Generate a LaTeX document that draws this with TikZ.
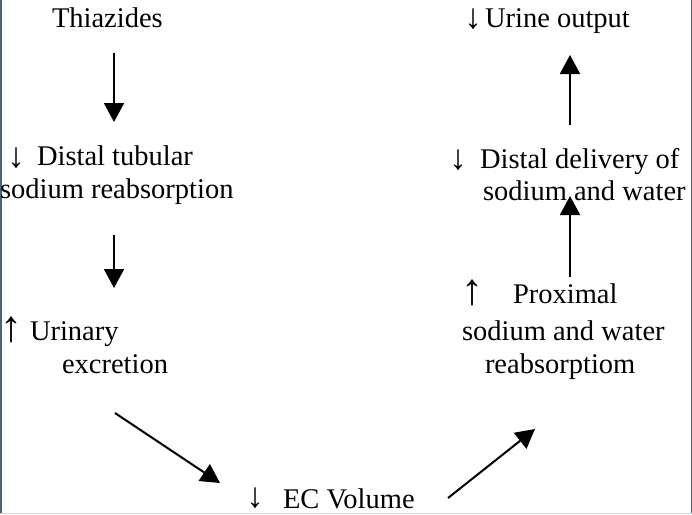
\documentclass[tikz,border=0pt]{standalone}
\usepackage{fontspec}
\setmainfont{Liberation Serif}
\usetikzlibrary{arrows.meta}
\definecolor{edgeblue}{RGB}{70,100,125}
\definecolor{edgelight}{RGB}{205,215,225}
\begin{document}
\begin{tikzpicture}[x=1pt,y=-1pt,
  lbl/.style={inner sep=0pt,outer sep=0pt,anchor=base west,font=\fontsize{28.5}{33}\selectfont},
  sym/.style={inner sep=0pt,outer sep=0pt,anchor=base,font=\fontsize{35}{37}\selectfont},
  symup/.style={inner sep=0pt,outer sep=0pt,anchor=base,font=\fontsize{44}{46}\selectfont},
  arr/.style={line width=2pt,-{Triangle[length=19pt,width=20pt]}}]
\useasboundingbox (0,0) rectangle (692,514);
% frame edges
\draw[edgeblue,line width=1.5pt] (0.75,0) -- (0.75,514);
\draw[edgeblue,line width=1.5pt] (691.25,0) -- (691.25,514);
\draw[edgelight,line width=1.5pt] (0,513.25) -- (692,513.25);
% left column
\node[lbl] (thz) at (52,27) {Thiazides};
\node[sym] (s1) at (16,167) {↓};
\node[lbl] (dt1) at (37,165) {Distal tubular};
\node[lbl] (dt2) at (0,198) {sodium reabsorption};
\node[symup] (s2) at (12,341) {↑};
\node[lbl] (ue1) at (30,340) {Urinary};
\node[lbl] (ue2) at (62,373) {excretion};
% bottom
\node[sym] (s3) at (255,507) {↓};
\node[lbl] (ec) at (283,508) {EC Volume};
% right column
\node[symup] (s4) at (472,304) {↑};
\node[lbl] (pr1) at (513,303) {Proximal};
\node[lbl] (pr2) at (462,340) {sodium and water};
\node[lbl] (pr3) at (485,373) {reabsorptiom};
\node[sym] (s5) at (458,169) {↓};
\node[lbl] (dd1) at (480,168) {Distal delivery of};
\node[lbl] (dd2) at (483,200) {sodium and water};
\node[sym] (s6) at (473,28) {↓};
\node[lbl] (uo) at (485,27) {Urine output};
% arrow end points
\coordinate (a1s) at (114,53);  \coordinate (a1e) at (114,122);
\coordinate (a2s) at (114,235); \coordinate (a2e) at (114,288);
\coordinate (a3s) at (115,413); \coordinate (a3e) at (220,483);
\coordinate (a4s) at (448,498); \coordinate (a4e) at (535,429);
\coordinate (a5s) at (570,277); \coordinate (a5e) at (570,196);
\coordinate (a6s) at (570,125); \coordinate (a6e) at (570,55);
\draw[arr] (a1s) -- (a1e);
\draw[arr] (a2s) -- (a2e);
\draw[arr] (a3s) -- (a3e);
\draw[arr] (a4s) -- (a4e);
\draw[arr] (a5s) -- (a5e);
\draw[arr] (a6s) -- (a6e);
\end{tikzpicture}
\end{document}
